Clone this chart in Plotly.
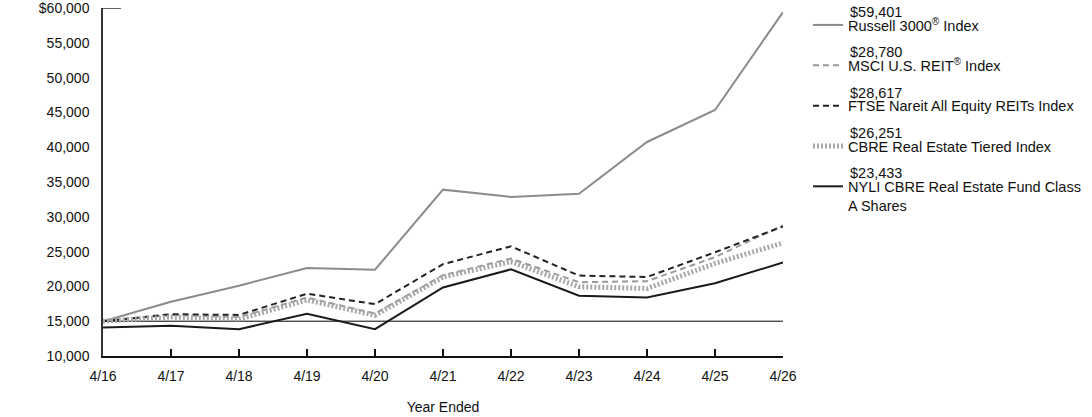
import plotly.graph_objects as go

years = ["4/16", "4/17", "4/18", "4/19", "4/20", "4/21", "4/22", "4/23", "4/24", "4/25", "4/26"]

russell = [15000, 17800, 20100, 22650, 22400, 33900, 32850, 33300, 40750, 45350, 59401]
msci = [15000, 15900, 15600, 18400, 16100, 21600, 24000, 20600, 20750, 24200, 28780]
ftse = [15000, 16000, 15900, 18950, 17450, 23200, 25750, 21550, 21350, 24900, 28617]
tiered = [15000, 15600, 15300, 18050, 15850, 21350, 23550, 19950, 19700, 23300, 26251]
nyli = [14100, 14350, 13850, 16050, 13850, 19850, 22450, 18650, 18400, 20450, 23433]

names = ["Russell 3000<sup>®</sup> Index", "MSCI U.S. REIT<sup>®</sup> Index",
         "FTSE Nareit All Equity REITs Index", "CBRE Real Estate Tiered Index",
         "NYLI CBRE Real Estate Fund Class<br>A Shares"]
end_labels = ["$59,401", "$28,780", "$28,617", "$26,251", "$23,433"]
initial = 15000

y_ticks = [10000, 15000, 20000, 25000, 30000, 35000, 40000, 45000, 50000, 55000, 60000]
y_ticktext = ["10,000", "15,000", "20,000", "25,000", "30,000", "35,000", "40,000",
              "45,000", "50,000", "55,000", "$60,000"]

series = [russell, msci, ftse, tiered, nyli]
styles = [
    dict(color="#8c8c8c", width=2, dash="solid"),
    dict(color="#9a9a9a", width=2, dash="6px,4px"),
    dict(color="#222222", width=2, dash="6px,4px"),
    dict(color="#a8a8a8", width=5, dash="2px,2px"),
    dict(color="#1a1a1a", width=2, dash="solid"),
]

FONT = "Liberation Sans, Arial, sans-serif"
LEG_SIZE = 14.5

fig = go.Figure()
for i, (vals, nm, st) in enumerate(zip(series, names, styles)):
    fig.add_trace(go.Scatter(
        x=years, y=vals, mode="lines", name=nm, line=st,
        legendgroup=f"g{i}", legendrank=i + 1, hoverinfo="skip"))

# reference line at initial investment
fig.add_shape(type="line", xref="x", yref="y", x0=0, x1=len(years) - 1,
              y0=initial, y1=initial, line=dict(color="black", width=1), layer="below")
# small stub at top of y axis
fig.add_shape(type="line", xref="paper", yref="y", x0=0, x1=18 / 680,
              y0=60000, y1=60000, line=dict(color="#333333", width=1.5))

# value labels above legend names
legend_top_px = 12
pitch = 40.3
for i, lab in enumerate(end_labels):
    ypx = legend_top_px + i * pitch
    fig.add_annotation(text=lab, xref="paper", yref="paper",
                       x=(848 - 103) / 680, y=1 - (ypx - 8) / 348,
                       xanchor="left", yanchor="middle", showarrow=False,
                       font=dict(size=LEG_SIZE, color="#111111", family=FONT))

fig.update_layout(
    width=1092, height=417,
    margin=dict(l=103, r=309, t=8, b=61, autoexpand=False),
    plot_bgcolor="white", paper_bgcolor="white",
    font=dict(family=FONT, size=14, color="#111111"),
    showlegend=True,
    legend=dict(xref="container", yref="container", x=808 / 1092, y=1 - 9 / 417,
                xanchor="left", yanchor="top", valign="top", maxheight=400,
                tracegroupgap=18.5, font=dict(size=LEG_SIZE, family=FONT),
                bgcolor="rgba(0,0,0,0)"),
    xaxis=dict(type="category", range=[0, len(years) - 1], showgrid=False,
               showline=True, linecolor="#111111", linewidth=1.5,
               ticks="inside", ticklen=7, tickcolor="#111111", tickwidth=1.5,
               ticklabelstandoff=6,
               title=dict(text="Year Ended", font=dict(size=14), standoff=20),
               zeroline=False, tickfont=dict(size=14)),
    yaxis=dict(range=[10000, 60000], tickvals=y_ticks, ticktext=y_ticktext,
               showgrid=False, zeroline=False, showline=True,
               linecolor="#333333", linewidth=1.5, ticks="",
               ticklabeloverflow="allow",
               ticklabelstandoff=9, tickfont=dict(size=14)),
)

fig.write_html("out.html")
